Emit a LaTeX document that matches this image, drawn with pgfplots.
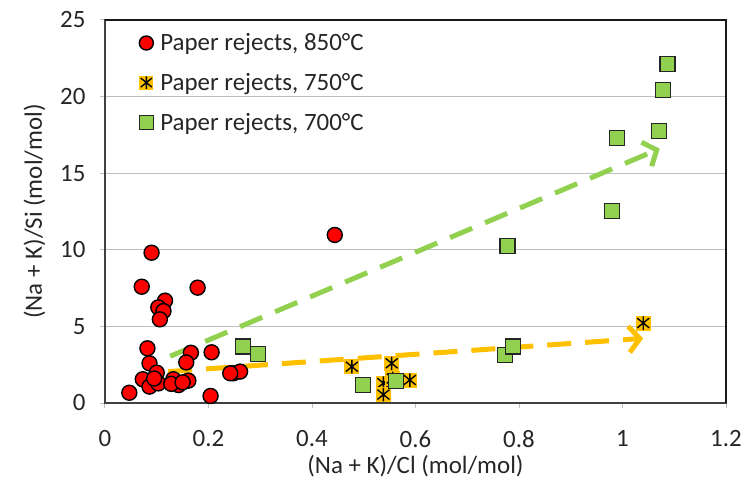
\documentclass[border=0pt]{standalone}
\usepackage{fontspec}
\setmainfont{Carlito}
\usepackage{pgfplots}
\pgfplotsset{compat=1.18}
\usetikzlibrary{arrows.meta,calc}
\definecolor{redC}{HTML}{FF0000}
\definecolor{orangeC}{HTML}{FFC000}
\definecolor{greenC}{HTML}{92D050}
\definecolor{gridC}{HTML}{BFBFBF}
\definecolor{axC}{HTML}{404040}
\pgfdeclareplotmark{sqast}{%
  \pgfpathrectangle{\pgfqpoint{-\pgfplotmarksize}{-\pgfplotmarksize}}{\pgfqpoint{2\pgfplotmarksize}{2\pgfplotmarksize}}%
  \pgfsetfillcolor{orangeC}\pgfusepath{fill}%
  \pgfsetstrokecolor{black}%
  \pgfpathmoveto{\pgfqpoint{0pt}{-0.9\pgfplotmarksize}}\pgfpathlineto{\pgfqpoint{0pt}{0.9\pgfplotmarksize}}%
  \pgfpathmoveto{\pgfqpoint{-0.8\pgfplotmarksize}{-0.65\pgfplotmarksize}}\pgfpathlineto{\pgfqpoint{0.8\pgfplotmarksize}{0.65\pgfplotmarksize}}%
  \pgfpathmoveto{\pgfqpoint{-0.8\pgfplotmarksize}{0.65\pgfplotmarksize}}\pgfpathlineto{\pgfqpoint{0.8\pgfplotmarksize}{-0.65\pgfplotmarksize}}%
  \pgfusepath{stroke}%
}
\begin{document}
\begin{tikzpicture}
\begin{axis}[
  name=ax,
  scale only axis,
  width=621bp, height=383bp,
  xmin=0, xmax=1.2, ymin=0, ymax=25,
  xtick={0,0.2,...,1.2}, ytick={0,5,...,25},
  xtick pos=bottom, ytick pos=left,
  tick align=outside,
  major tick length=5bp,
  tick style={draw=gridC, line width=1bp},
  ymajorgrids, grid style={draw=gridC, line width=1.2bp},
  axis line style={draw=axC, line width=1.8bp},
  /pgf/number format/assume math mode=true,
  ticklabel style={font=\fontsize{25}{30}\selectfont, text=black!85},
  xticklabel style={yshift=-19bp},
  yticklabel style={xshift=-11bp},
  label style={font=\fontsize{25}{30}\selectfont, text=black!85},
  xlabel={(Na + K)/Cl (mol/mol)},
  ylabel={(Na + K)/Si (mol/mol)},
  xlabel style={yshift=-1bp},
  ylabel style={yshift=8bp},
  legend style={at={(0.055,0.97)}, anchor=north west, draw=none, fill=none,
    font=\fontsize{25}{30}\selectfont, text=black!85, row sep=17bp,
    legend cell align=left, inner sep=0pt,
    /tikz/every odd column/.append style={column sep=5bp}},
  legend image code/.code={\draw[#1, mark size=7bp] (0bp,0bp) plot coordinates {(0bp,0bp)};},
  clip=false,
]
% trend arrows
\addplot[forget plot, draw=greenC, line width=5bp, dash pattern=on 24bp off 14bp,
  -{Straight Barb[length=11bp, width=26bp, line width=5bp]}]
  coordinates {(0.126,3.05) (1.072,16.6)};
\addplot[forget plot, draw=orangeC, line width=5bp, dash pattern=on 24bp off 14bp,
  -{Straight Barb[length=11bp, width=26bp, line width=5bp]}]
  coordinates {(0.122,2.05) (1.040,4.22)};
% 850 C
\addplot[only marks, mark=*, mark size=7.5bp, mark options={fill=redC, draw=black, line width=1.4bp}]
coordinates {
(0.090,9.81) (0.071,7.59) (0.179,7.53) (0.116,6.68) (0.103,6.24) (0.113,6.0)
(0.106,5.46) (0.444,10.97) (0.082,3.57) (0.086,2.59) (0.166,3.28) (0.206,3.31)
(0.157,2.65) (0.100,1.98) (0.073,1.55) (0.086,1.07) (0.103,1.28) (0.132,1.55)
(0.161,1.46) (0.142,1.17) (0.047,0.67) (0.204,0.46) (0.248,1.94) (0.261,2.05)
(0.242,1.94) (0.128,1.25) (0.150,1.35) (0.095,1.6)
};
\addlegendentry{Paper rejects, 850°C}
% 750 C
\addplot[only marks, mark=sqast, mark size=7.5bp, mark options={line width=1.4bp}]
coordinates {
(0.477,2.37) (0.554,2.59) (0.538,1.30) (0.538,0.55) (0.589,1.50) (0.556,1.6) (1.040,5.22)
};
\addlegendentry{Paper rejects, 750°C}
% 700 C
\addplot[only marks, mark=square*, mark size=7.5bp, mark options={fill=greenC, draw=black!85, line width=1.3bp}]
coordinates {
(0.266,3.68) (0.296,3.18) (0.498,1.17) (0.562,1.44) (0.773,3.13) (0.788,3.68)
(0.778,10.25) (0.980,12.55) (0.990,17.28) (1.071,17.75) (1.078,20.43) (1.087,22.11)
};
\addlegendentry{Paper rejects, 700°C}
\end{axis}
\draw[black!90, line width=1.6bp] (ax.north west) -- (ax.north east) -- (ax.south east);
\pgfresetboundingbox
\path ($(ax.south west)+(-105bp,-81bp)$) rectangle ($(ax.north east)+(19bp,20bp)$);
\end{tikzpicture}
\end{document}
